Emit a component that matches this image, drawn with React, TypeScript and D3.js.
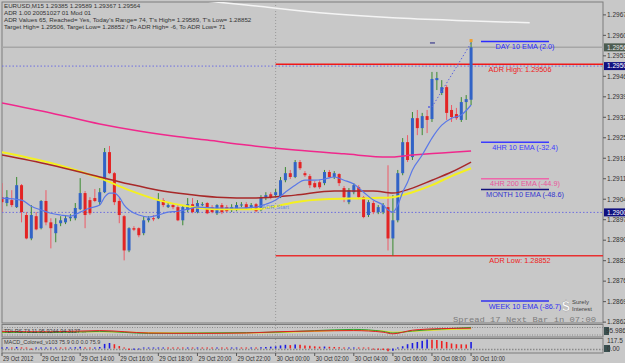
import React from 'react'
import * as d3 from 'd3'

// header lines (top-left of the chart)
const headerLines = [
  'EURUSD,M15  1.29385 1.29589 1.29367 1.29564',
  'ADR 1.00 20051027 01 Mod 01',
  "ADR Values 65, Reached= Yes, Today's Range= 74, T's High= 1.29589, T's Low= 1.28852",
  'Target High= 1.29506, Target Low= 1.28852 / To ADR High= -6, To ADR Low= 71',
]

// M15 bars, 29 Oct 10:00 -> 30 Oct 10:00
const opens = [
  1.29052, 1.29032, 1.29042, 1.29018, 1.29093, 1.28991, 1.28911, 1.28987, 1.28946, 1.29039,
  1.28966, 1.28929, 1.28963, 1.28966, 1.2898, 1.2898, 1.29011, 1.29066, 1.29042, 1.29049,
  1.29035, 1.29069, 1.29206, 1.29134, 1.29039, 1.28987, 1.2887, 1.28946, 1.28946, 1.28929,
  1.28973, 1.2898, 1.2898, 1.29042, 1.29018, 1.29025, 1.29018, 1.28973, 1.29008, 1.29028,
  1.29001, 1.29025, 1.29032, 1.29018, 1.28997, 1.29025, 1.29018, 1.29008, 1.29008, 1.29025,
  1.29028, 1.29015, 1.29028, 1.29008, 1.29049, 1.29062, 1.29059, 1.29052, 1.2911, 1.29134,
  1.29121, 1.29172, 1.29134, 1.29124, 1.291, 1.29103, 1.291, 1.29138, 1.29121, 1.29131,
  1.29083, 1.29035, 1.29069, 1.29086, 1.29052, 1.28991, 1.29032, 1.29001, 1.29001, 1.29018,
  1.28911, 1.28973, 1.29134, 1.2924, 1.29189, 1.29322, 1.29288, 1.29329, 1.29319, 1.29452,
  1.29408, 1.29428, 1.2935, 1.29336, 1.29316, 1.29377, 1.29385,
]
const highs = [
  1.291, 1.29076, 1.29076, 1.29121, 1.29097, 1.29001, 1.29025, 1.29001, 1.29042, 1.29076,
  1.2898, 1.2898, 1.28987, 1.28991, 1.28994, 1.29032, 1.29117, 1.29073, 1.29052, 1.2908,
  1.29083, 1.2922, 1.29227, 1.29138, 1.29049, 1.28991, 1.28949, 1.28953, 1.28949, 1.28987,
  1.28987, 1.28991, 1.29066, 1.29049, 1.29035, 1.29032, 1.29025, 1.29025, 1.29049, 1.29049,
  1.29042, 1.29035, 1.29035, 1.29025, 1.29028, 1.29032, 1.29025, 1.29028, 1.29035, 1.29035,
  1.29035, 1.29032, 1.29032, 1.29059, 1.29069, 1.29069, 1.2908, 1.29121, 1.29155, 1.29145,
  1.29179, 1.29179, 1.29141, 1.29131, 1.29107, 1.2911, 1.29145, 1.29145, 1.29141, 1.29134,
  1.2909, 1.29083, 1.291, 1.29093, 1.29056, 1.29042, 1.29039, 1.29025, 1.29032, 1.29161,
  1.29059, 1.29145, 1.29254, 1.29264, 1.29343, 1.2935, 1.2934, 1.2935, 1.2948, 1.2948,
  1.29452, 1.29435, 1.29367, 1.29357, 1.29394, 1.29401, 1.29589,
]
const lows = [
  1.29001, 1.29021, 1.29018, 1.29015, 1.28966, 1.28908, 1.28905, 1.28939, 1.28942, 1.28956,
  1.28877, 1.28898, 1.28953, 1.2896, 1.2897, 1.28973, 1.29008, 1.28946, 1.28991, 1.29035,
  1.29025, 1.29066, 1.29131, 1.29025, 1.28963, 1.28836, 1.28864, 1.28936, 1.28915, 1.28922,
  1.28966, 1.2897, 1.28977, 1.29018, 1.29015, 1.29011, 1.2897, 1.28956, 1.29001, 1.28997,
  1.28997, 1.29021, 1.28994, 1.28997, 1.28991, 1.28994, 1.29001, 1.29001, 1.29004, 1.29018,
  1.29011, 1.29011, 1.29001, 1.29004, 1.29042, 1.29045, 1.29052, 1.29049, 1.29103, 1.29114,
  1.29117, 1.29145, 1.29121, 1.29083, 1.29083, 1.2908, 1.29093, 1.29117, 1.29114, 1.2909,
  1.29035, 1.29028, 1.29062, 1.29045, 1.2898, 1.28984, 1.28994, 1.28994, 1.28994, 1.2887,
  1.28852, 1.28966, 1.29127, 1.29172, 1.29179, 1.29264, 1.29264, 1.29271, 1.29309, 1.29418,
  1.29401, 1.29316, 1.29309, 1.29316, 1.29309, 1.29316, 1.29367,
]
const closes = [
  1.29035, 1.29052, 1.29025, 1.29093, 1.29001, 1.28911, 1.28991, 1.28942, 1.29039, 1.28966,
  1.28946, 1.2896, 1.28973, 1.2898, 1.28984, 1.29015, 1.29066, 1.28991, 1.28997, 1.29039,
  1.29069, 1.29206, 1.29134, 1.29035, 1.28991, 1.2887, 1.28946, 1.28941, 1.28922, 1.28973,
  1.2898, 1.28978, 1.29042, 1.29025, 1.29025, 1.29018, 1.28973, 1.29018, 1.29028, 1.29001,
  1.29032, 1.29028, 1.28997, 1.29001, 1.29025, 1.29001, 1.29004, 1.29018, 1.29025, 1.29027,
  1.29015, 1.29025, 1.29004, 1.29052, 1.29059, 1.29052, 1.29069, 1.2911, 1.29134, 1.29121,
  1.29172, 1.29151, 1.29127, 1.29093, 1.29086, 1.29086, 1.29138, 1.29121, 1.29134, 1.291,
  1.29052, 1.29076, 1.29093, 1.29052, 1.28984, 1.29035, 1.29001, 1.29018, 1.29025, 1.28911,
  1.28973, 1.29134, 1.2924, 1.29179, 1.29322, 1.29288, 1.29329, 1.29316, 1.29456, 1.29459,
  1.29428, 1.2934, 1.29326, 1.29322, 1.29377, 1.29387, 1.29564,
]

// moving averages: [bar, price]
const ema10 = [
  [0, 1.29049], [4, 1.29042], [6, 1.29021], [8, 1.29008], [10, 1.28997], [12, 1.28991], [14, 1.28987],
  [16, 1.29001], [18, 1.29015], [20, 1.29025], [21, 1.29052], [22, 1.29066], [23, 1.29066], [24, 1.29052],
  [25, 1.29025], [26, 1.29008], [28, 1.28991], [30, 1.28984], [32, 1.28991], [34, 1.29001], [36, 1.29004],
  [38, 1.29011], [40, 1.29018], [44, 1.29015], [48, 1.29015], [52, 1.29018], [54, 1.29028], [56, 1.29042],
  [58, 1.29069], [60, 1.29093], [62, 1.2911], [64, 1.2911], [66, 1.29114], [68, 1.29121], [70, 1.2911],
  [72, 1.29097], [74, 1.29069], [76, 1.29042], [78, 1.29025], [79, 1.29008], [80, 1.29001], [81, 1.29025],
  [82, 1.29069], [83, 1.29103], [84, 1.29145], [86, 1.29196], [88, 1.29254], [90, 1.29298], [92, 1.29322],
  [94, 1.29333], [96, 1.29367],
]
const maRed = [
  [0, 1.29196], [10, 1.29162], [20, 1.29121], [26, 1.29097], [32, 1.29076], [38, 1.29062], [44, 1.29052],
  [52, 1.29049], [60, 1.29059], [68, 1.29073], [76, 1.29073], [80, 1.29066], [84, 1.29083], [88, 1.2911],
  [92, 1.29138], [96, 1.29172],
]
const maYellow = [
  [0, 1.29206], [10, 1.29169], [20, 1.29117], [26, 1.29076], [32, 1.29042], [38, 1.29021], [44, 1.29011],
  [52, 1.29011], [56, 1.29021], [60, 1.29035], [66, 1.29045], [76, 1.29049], [80, 1.29052], [84, 1.29069],
  [88, 1.29093], [92, 1.29124], [96, 1.29151],
]
const maPink = [
  [0, 1.29374], [10, 1.2934], [20, 1.29302], [28, 1.29278], [35, 1.29261], [42, 1.29247], [50, 1.2923],
  [60, 1.29213], [70, 1.292], [79, 1.29189], [84, 1.29196], [90, 1.29203], [96, 1.2921],
]
const maWhite = [
  [37, 1.2973], [50, 1.29709], [65, 1.29682], [80, 1.29665], [95, 1.29655], [108, 1.29648],
]
const projection = [[88, 1.2936], [96, 1.29579]]

const bidPrice = 1.29564
const adrHigh = 1.29506
const adrLow = 1.28852
const roundLevels = [1.295, 1.29]

// EMA distances (pips) from the last close
const emaNames = ['DAY 10 EMA', '4HR 10 EMA', '4HR 200 EMA', 'MONTH 10 EMA', 'WEEK 10 EMA']
const emaDiffs = [2.0, -32.4, -44.9, -48.6, -86.7]

const priceTicks = [
  '1.29675', '1.29605', '1.29535', '1.29465', '1.29395', '1.29325', '1.29255', '1.29185',
  '1.29115', '1.29045', '1.28975', '1.28905', '1.28835', '1.28765', '1.28695', '1.28625',
]
const timeLabels = [
  '29 Oct 2012', '29 Oct 12:00', '29 Oct 14:00', '29 Oct 16:00', '29 Oct 18:00', '29 Oct 20:00',
  '29 Oct 22:00', '30 Oct 00:00', '30 Oct 02:00', '30 Oct 04:00', '30 Oct 06:00', '30 Oct 08:00',
  '30 Oct 10:00',
]

// MACD_Colored histogram
const macd = [
  15, 20, 12, 25, 18, -10, -20, -15, -10, 8,
  10, 12, 8, 5, 12, 20, 30, 15, 10, 12,
  25, 75, 90, 70, 40, -15, -25, -20, -18, -12,
  -8, -5, 12, 15, 10, 8, -6, -8, 8, 6,
  10, 8, 6, -5, 8, 6, -4, 5, 8, 6,
  5, 8, 6, 20, 25, 30, 35, 50, 60, 55,
  65, 60, 50, 45, 35, 30, 32, 28, 25, 20,
  10, 12, 15, 8, -10, -15, -18, -20, -25, -45,
  -35, -10, 37, 70, 90, 107, 125, 146, 144, 140,
  123, 107, 82, 70, 68, 66, 105,
]
// TSI-type lines in the first sub-window
const tsiRed = [[0, 94], [10, 93], [20, 96], [30, 90], [40, 89], [50, 90], [56, 93], [64, 95], [72, 96], [78, 92], [80, 88], [84, 97], [90, 101], [96, 102]]
const tsiGreen = [[0, 92], [10, 91], [20, 94], [30, 89], [40, 90], [50, 91], [56, 92], [64, 96], [72, 99], [78, 94], [80, 90], [84, 95], [90, 100], [96, 104]]
const tsiYellow = [[0, 91], [10, 92], [20, 93], [30, 91], [40, 90], [50, 90], [56, 91], [64, 94], [72, 97], [78, 95], [80, 92], [84, 94], [90, 98], [96, 100]]

const W = 625, H = 363
const L = 2, R = 603, T = 2, B = 323
const BG = '#c8c8c8'
const FONT = "'Liberation Sans', Tahoma, Arial, sans-serif"
const emaLineColors = ['#2b2bff', '#3b3bff', '#ee66aa', '#10107a', '#3030f0']
const emaTextColors = ['#2b2bff', '#3b3bff', '#e8559c', '#3434d0', '#3030f0']

const App = () => {
  const x = d3.scaleLinear().domain([0, 123]).range([L, R])
  const y = d3.scaleLinear().domain([1.28622, 1.29719]).range([B, T])
  const ySub1 = d3.scaleLinear().domain([80, 110]).range([337, 325])
  const ySub2 = d3.scaleLinear().domain([0, 117.5]).range([348.5, 341.3])

  const ma = d3.line<number[]>().x(d => x(d[0])).y(d => y(d[1])).curve(d3.curveMonotoneX)
  const sub = d3.line<number[]>().x(d => x(d[0])).y(d => ySub1(d[1])).curve(d3.curveMonotoneX)

  const lastClose = closes[closes.length - 1]
  const dayStart = 56

  return (
    <svg width={W} height={H} style={{ position: 'fixed', left: 0, top: 0, background: BG }} fontFamily={FONT}>
      <rect x={0} y={0} width={W} height={H} fill={BG} />
      <defs>
        <clipPath id="main"><rect x={L} y={T} width={R - L} height={B - T} /></clipPath>
      </defs>

      {/* frames */}
      <rect x={L} y={T} width={R - L} height={B - T} fill="none" stroke="#7c7c7c" />
      <rect x={L} y={324.5} width={R - L} height={12.5} fill="none" stroke="#7c7c7c" />
      <rect x={L} y={338.5} width={R - L} height={14.5} fill="none" stroke="#7c7c7c" />

      <g clipPath="url(#main)">
        {/* day separator */}
        <line x1={x(dayStart)} x2={x(dayStart)} y1={T} y2={B} stroke="#9a9a9a" strokeDasharray="1 2" />
        {/* white MA near top */}
        <path d={ma(maWhite) || ''} fill="none" stroke="#f4f4f4" strokeWidth={1.5} />
        {/* bid line */}
        <line x1={L} x2={R} y1={y(bidPrice)} y2={y(bidPrice)} stroke="#a6a6a6" strokeWidth={1.5} />
        {/* round number dotted lines */}
        {roundLevels.map(p => (
          <line key={p} x1={L} x2={R} y1={y(p)} y2={y(p)} stroke="#6e6ee0" strokeDasharray="1.5 2" />
        ))}
        {/* ADR lines */}
        <line x1={x(dayStart)} x2={R} y1={y(adrHigh)} y2={y(adrHigh)} stroke="#f01818" strokeWidth={1.5} />
        <line x1={x(dayStart)} x2={R} y1={y(adrLow)} y2={y(adrLow)} stroke="#e83030" strokeWidth={1.5} />

        {/* candles */}
        {opens.map((o, i) => {
          const c = closes[i]
          const bull = c >= o
          const cx = x(i)
          const top = y(Math.max(o, c))
          const h = Math.max(1, Math.abs(y(o) - y(c)))
          return (
            <g key={i}>
              <line x1={cx} x2={cx} y1={y(highs[i])} y2={y(lows[i])} stroke={bull ? '#3a8a30' : '#ee5a66'} strokeWidth={1} />
              <rect x={cx - 1.5} y={top} width={3} height={h} fill={bull ? '#3163c6' : '#e32424'} />
            </g>
          )
        })}

        {/* MAs */}
        <path d={ma(maPink) || ''} fill="none" stroke="#f0288c" strokeWidth={1.5} />
        <path d={ma(maYellow) || ''} fill="none" stroke="#f4f020" strokeWidth={2} />
        <path d={ma(maRed) || ''} fill="none" stroke="#a82828" strokeWidth={1.5} />
        <path d={ma(ema10) || ''} fill="none" stroke="#5a78e8" strokeWidth={1.2} />
        <path d={ma(projection) || ''} fill="none" stroke="#5a64e0" strokeDasharray="1.5 2" />
        <circle cx={x(projection[0][0]) - 3} cy={y(projection[0][1])} r={1} fill="#5a64e0" />
        <line x1={x(88) - 2} x2={x(88) + 3} y1={y(projection[1][1])} y2={y(projection[1][1])} stroke="#202080" />
        <rect x={x(96) - 1.5} y={y(highs[96]) - 1} width={3} height={3} fill="#f0a030" />
      </g>

      {/* EMA level markers */}
      {emaNames.map((n, k) => {
        const p = lastClose + emaDiffs[k] / 10000
        const yy = y(p)
        return (
          <g key={n}>
            <line x1={481} x2={549} y1={yy} y2={yy} stroke={emaLineColors[k]} strokeWidth={1.5} />
            <text x={525} y={yy + 7.5} textAnchor="middle" fontSize={7.3} fill={emaTextColors[k]}>
              {`${n} (${emaDiffs[k].toFixed(1)})`}
            </text>
          </g>
        )
      })}
      <text x={520} y={y(adrHigh) + 7.5} textAnchor="middle" fontSize={7.3} fill="#ee2020">{`ADR High: ${adrHigh.toFixed(5)}`}</text>
      <text x={520} y={y(adrLow) + 7.5} textAnchor="middle" fontSize={7.3} fill="#ee2020">{`ADR Low: ${adrLow.toFixed(5)}`}</text>
      <text x={262} y={209} fontSize={6} fill="#6f8de0">ADR Start</text>

      {/* header */}
      {headerLines.map((t, k) => (
        <text key={k} x={4} y={8 + k * 7} fontSize={6.2} fill="#333">{t}</text>
      ))}

      {/* logo + spread */}
      <text x={453} y={322} fontSize={8} fontFamily="'Liberation Mono', monospace" fill="#7c7c7c" textLength={143} lengthAdjust="spacingAndGlyphs">Spread  17  Next Bar in 07:00</text>
      <text x={562} y={311} fontSize={14} fontWeight="bold" fill="#ffffff" stroke="#888" strokeWidth={0.3}>$</text>
      <text x={572} y={304} fontSize={6} fill="#444">Surely</text>
      <text x={572} y={311} fontSize={6} fill="#444">Interest</text>

      {/* price axis */}
      {priceTicks.map(t => (
        <g key={t}>
          <line x1={R} x2={R + 3} y1={y(+t)} y2={y(+t)} stroke="#555" />
          <text x={R + 4} y={y(+t) + 2.3} fontSize={6.5} fill="#333">{t}</text>
        </g>
      ))}
      <rect x={R + 1} y={y(bidPrice) - 4} width={22} height={8} fill="#4d5c50" />
      <text x={R + 4} y={y(bidPrice) + 2.3} fontSize={6.5} fill="#e6e6e6">{bidPrice.toFixed(5)}</text>
      {roundLevels.map(p => (
        <g key={p}>
          <rect x={R + 1} y={y(p) - 4} width={22} height={8} fill="#101080" />
          <text x={R + 4} y={y(p) + 2.3} fontSize={6.5} fill="#fff">{p.toFixed(5)}</text>
        </g>
      ))}

      {/* sub-window 1 */}
      <line x1={L} x2={R} y1={327.5} y2={327.5} stroke="#8a8a8a" strokeDasharray="1 1.5" />
      <line x1={L} x2={R} y1={335} y2={335} stroke="#8a8a8a" strokeDasharray="1 1.5" />
      <line x1={x(dayStart)} x2={x(dayStart)} y1={325} y2={337} stroke="#9a9a9a" strokeDasharray="1 2" />
      <path d={sub(tsiYellow) || ''} fill="none" stroke="#e8e020" strokeWidth={1} />
      <path d={sub(tsiGreen) || ''} fill="none" stroke="#30a030" strokeWidth={1} />
      <path d={sub(tsiRed) || ''} fill="none" stroke="#e02020" strokeWidth={1} />
      <text x={4} y={333} fontSize={5.5} fill="#3a3a3a">TDI-RS 73.11 95.9244 94.3127 ...</text>
      <rect x={R + 1} y={327} width={5} height={8} fill="#3a5050" />
      <text x={R + 3} y={333} fontSize={6.5} fill="#333">95.9862</text>

      {/* sub-window 2: MACD */}
      <line x1={L} x2={R} y1={349.5} y2={349.5} stroke="#8a8a8a" strokeWidth={1.5} strokeDasharray="1.5 1.5" />
      <line x1={x(dayStart)} x2={x(dayStart)} y1={339} y2={353} stroke="#9a9a9a" strokeDasharray="1 2" />
      {macd.map((v, i) => {
        const up = i === 0 || v >= macd[i - 1]
        const y0 = ySub2(0), y1 = ySub2(v)
        return (
          <line key={i} x1={x(i)} x2={x(i)} y1={y0} y2={Math.abs(y1 - y0) < 1 ? y0 - 1 : y1} stroke={up ? '#1c1ce0' : '#ee2020'} strokeWidth={1.6} />
        )
      })}
      <text x={4} y={344} fontSize={5.5} fill="#3a3a3a">MACD_Colored_v103 75.9 0.0 0.0 75.9</text>
      <text x={R + 4} y={343} fontSize={6.5} fill="#333">117.5</text>
      <rect x={R + 1} y={345} width={6} height={7} fill="#3a5050" />
      <text x={R + 4} y={351} fontSize={6.5} fill="#333">0.00</text>

      {/* time axis */}
      {timeLabels.map((t, k) => {
        const xx = x(k * 8)
        return (
          <g key={t}>
            <line x1={xx} x2={xx} y1={353} y2={356} stroke="#555" />
            <text x={xx + 1} y={361} fontSize={6.4} fill="#333" textLength={t.length * 2.75} lengthAdjust="spacingAndGlyphs">{t}</text>
          </g>
        )
      })}
    </svg>
  )
}

export default App
